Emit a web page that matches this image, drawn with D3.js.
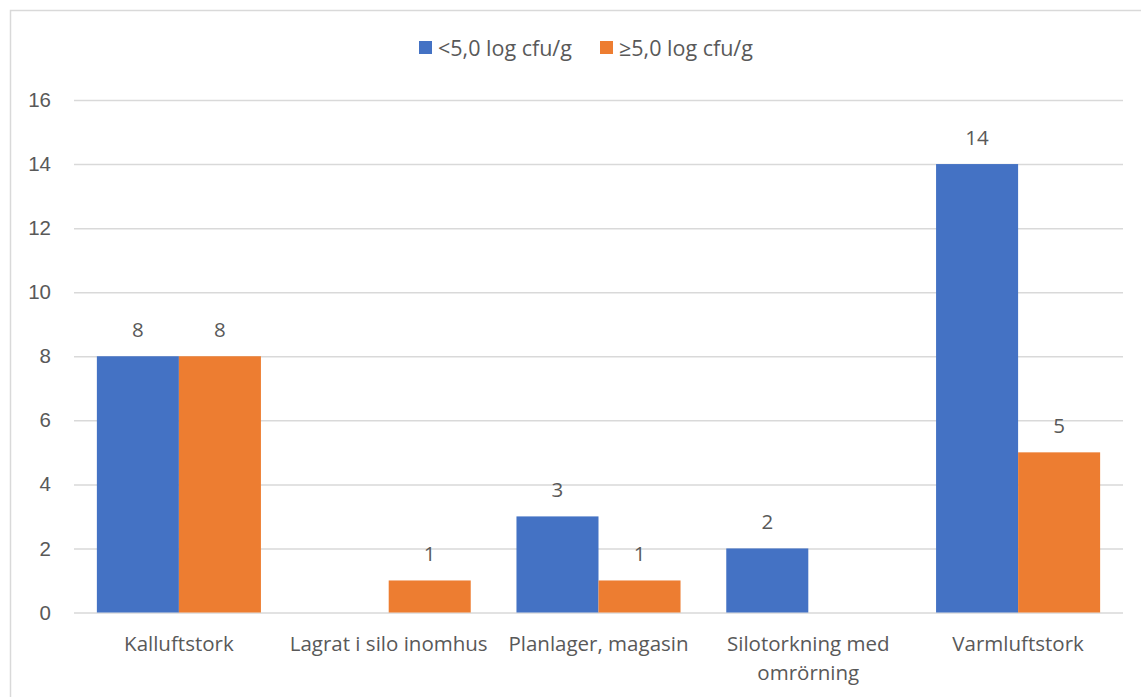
<!DOCTYPE html>
<html>
<head>
<meta charset="utf-8">
<script src="https://cdn.jsdelivr.net/npm/d3@7"></script>
<style>
  html, body { margin: 0; padding: 0; background: #fff; }
  svg { display: block; font-family: "Open Sans", "Noto Sans", sans-serif; }
</style>
</head>
<body>
<svg id="chart" width="1141" height="697"></svg>
<script>
// Samples per drying / storage method, split by mould count level
const categories = [
  ["Kalluftstork"],
  ["Lagrat i silo inomhus"],
  ["Planlager, magasin"],
  ["Silotorkning med", "omrörning"],
  ["Varmluftstork"]
];
const seriesNames = ["<5,0 log cfu/g", "≥5,0 log cfu/g"];
const lowValues = [8, 0, 3, 2, 14];
const highValues = [8, 1, 1, 0, 5];
const yTicks = [0, 2, 4, 6, 8, 10, 12, 14, 16];
const colors = ["#4472C4", "#ED7D31"];

const svg = d3.select("#chart");
const W = 1141, H = 697;
const textColor = "#595959";
const fontSize = "20.5px";

// outer frame
svg.append("rect")
  .attr("x", 10.5).attr("y", 10.5)
  .attr("width", W + 10).attr("height", H + 10)
  .attr("fill", "none").attr("stroke", "#d9d9d9").attr("stroke-width", 1.5);

const plotLeft = 74, plotRight = 1123, plotTop = 100, plotBottom = 612.5;

const x0 = d3.scaleBand()
  .domain(categories.map((d, i) => i))
  .range([plotLeft, plotRight])
  .paddingInner(0.218)
  .paddingOuter(0.109);

const x1 = d3.scaleBand()
  .domain([0, 1])
  .range([0, x0.bandwidth()]);

const y = d3.scaleLinear().domain([0, 16]).range([plotBottom, plotTop]);

// gridlines and y labels
const yAxis = d3.axisLeft(y).tickValues(yTicks).tickSize(-(plotRight - plotLeft)).tickPadding(23);
const gy = svg.append("g").attr("transform", `translate(${plotLeft},0)`).call(yAxis);
gy.select(".domain").remove();
gy.selectAll(".tick line").attr("stroke", "#d9d9d9").attr("stroke-width", 1.5);
gy.selectAll(".tick text")
  .attr("fill", textColor)
  .style("font-size", fontSize);

// bars
const series = [lowValues, highValues];
const rows = categories.map((c, i) => ({ i, vals: series.map(s => s[i]) }));

const groups = svg.append("g").selectAll("g")
  .data(rows).join("g")
  .attr("transform", d => `translate(${x0(d.i)},0)`);

groups.selectAll("rect")
  .data(d => d.vals.map((v, k) => ({ v, k })))
  .join("rect")
  .attr("x", d => x1(d.k))
  .attr("width", x1.bandwidth())
  .attr("y", d => y(d.v))
  .attr("height", d => y(0) - y(d.v))
  .attr("fill", d => colors[d.k]);

// value labels (zero values carry no label)
groups.selectAll("text.val")
  .data(d => d.vals.map((v, k) => ({ v, k })).filter(e => e.v > 0))
  .join("text")
  .attr("class", "val")
  .attr("x", d => x1(d.k) + x1.bandwidth() / 2)
  .attr("y", d => y(d.v) - 19)
  .attr("text-anchor", "middle")
  .attr("fill", textColor)
  .style("font-size", fontSize)
  .text(d => d.v);

// category labels
const xAxis = svg.append("g");
categories.forEach((lines, i) => {
  const t = xAxis.append("text")
    .attr("x", x0(i) + x0.bandwidth() / 2)
    .attr("y", 651)
    .attr("text-anchor", "middle")
    .attr("fill", textColor)
    .style("font-size", fontSize);
  lines.forEach((ln, j) => {
    t.append("tspan")
      .attr("x", x0(i) + x0.bandwidth() / 2)
      .attr("dy", j === 0 ? 0 : 29)
      .text(ln);
  });
});

// legend
const legendItems = [
  { x: 419, name: seriesNames[0], c: colors[0] },
  { x: 600, name: seriesNames[1], c: colors[1] }
];
const lg = svg.append("g");
legendItems.forEach(it => {
  lg.append("rect").attr("x", it.x).attr("y", 41).attr("width", 13).attr("height", 13).attr("fill", it.c);
  lg.append("text").attr("x", it.x + 19).attr("y", 55.5)
    .attr("fill", textColor).style("font-size", "21.5px").text(it.name);
});
</script>
</body>
</html>
